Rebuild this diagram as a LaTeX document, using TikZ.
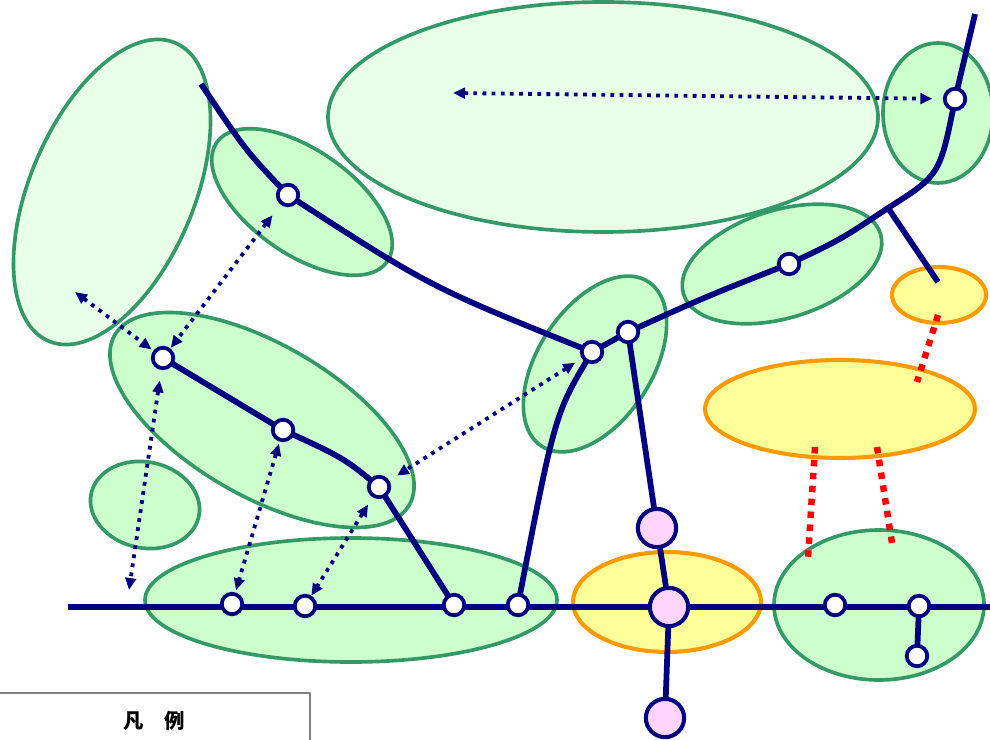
\documentclass[tikz,border=0pt]{standalone}
\usepackage{fontspec}
\newfontfamily\jpfont{Noto Sans CJK JP}
\usepackage{tikz}
\usetikzlibrary{arrows.meta, calc, backgrounds}
\usepackage{xcolor}
\definecolor{navy}{HTML}{000080}
\definecolor{zoneedge}{HTML}{339966}
\definecolor{zonefill}{HTML}{CCFFCC}
\definecolor{palefill}{HTML}{E8FFE8}
\definecolor{yeledge}{HTML}{FF9900}
\definecolor{yelfill}{HTML}{FFFF99}
\definecolor{pinkfill}{HTML}{FFD5FF}
\definecolor{legendedge}{HTML}{808080}

\begin{document}
\begin{tikzpicture}[x=0.025cm, y=-0.025cm, line join=round,
    zone/.style={draw=zoneedge, fill=zonefill, line width=2.6pt},
    palezone/.style={draw=zoneedge, fill=palefill, line width=2.6pt},
    yelzone/.style={draw=yeledge, fill=yelfill, line width=2.9pt},
    track/.style={draw=navy, line width=4.1pt},
    stn/.style={circle, draw=navy, fill=white, line width=2.7pt, minimum size=14.6pt, inner sep=0pt},
    hub/.style={circle, draw=navy, fill=pinkfill, line width=2.9pt, minimum size=27.2pt, inner sep=0pt},
    link/.style={draw=navy, line width=2.7pt, dash pattern=on 2.7pt off 3.8pt,
      {Triangle[length=8.5pt,width=7.5pt]}-{Triangle[length=8.5pt,width=7.5pt]}},
    tie/.style={draw=red, line width=4.6pt, dash pattern=on 4.6pt off 4.6pt}]
  \useasboundingbox (0,0) rectangle (990,740);

  % stations
  \node[stn] (st1)  at (288,195) {};
  \node[stn] (st2)  at (163,358) {};
  \node[stn] (st3)  at (283,430) {};
  \node[stn] (st4)  at (379,487) {};
  \node[stn] (st5)  at (454,605) {};
  \node[stn] (st6)  at (232,604) {};
  \node[stn] (st7)  at (305,606) {};
  \node[stn] (st8)  at (592,352) {};
  \node[stn] (st9)  at (628,332) {};
  \node[stn] (st10) at (789,264) {};
  \node[stn] (st11) at (955,99) {};
  \node[stn] (st12) at (518,605) {};
  \node[stn] (st13) at (835,605) {};
  \node[stn] (st14) at (919,606) {};
  \node[stn] (st15) at (917,656) {};
  \node[hub] (pk1) at (657,528) {};
  \node[hub] (pk2) at (669,607) {};
  \node[hub] (pk3) at (665,718) {};

  % free ends
  \coordinate (m0) at (68,607);
  \coordinate (m1) at (995,607);
  \coordinate (a0) at (201,84);
  \coordinate (a1) at (975,14);
  \coordinate (jn) at (888,208);
  \coordinate (b1) at (938,282);
  \coordinate (c1) at (453,93);
  \coordinate (c2) at (75,292);
  \coordinate (c4) at (129,590);
  \coordinate (t1) at (938,315);
  \coordinate (t2) at (917,382);
  \coordinate (t3) at (815,447);
  \coordinate (t4) at (808,558);
  \coordinate (t5) at (877,447);
  \coordinate (t6) at (892,543);

  \begin{pgfonlayer}{background}
    % areas
    \draw[palezone, rotate around={67:(112,192)}] (112,192) ellipse [x radius=162, y radius=82];
    \draw[palezone] (603,117) ellipse [x radius=275, y radius=115];
    \draw[zone] (938,113) ellipse [x radius=55, y radius=70];
    \draw[zone, rotate around={-35:(302,202)}] (302,202) ellipse [x radius=104, y radius=52];
    \draw[zone, rotate around={-30:(262,420)}] (262,420) ellipse [x radius=170, y radius=76];
    \draw[zone, rotate around={-12:(145,505)}] (145,505) ellipse [x radius=55, y radius=43];
    \draw[zone] (351,600) ellipse [x radius=206, y radius=62];
    \draw[zone, rotate around={57:(595,364)}] (595,364) ellipse [x radius=98, y radius=57];
    \draw[zone, rotate around={17:(782,264)}] (782,264) ellipse [x radius=103, y radius=54];
    \draw[zone] (879,605) ellipse [x radius=105, y radius=75];
    \draw[yelzone] (939,295) ellipse [x radius=47, y radius=28];
    \draw[yelzone] (840,409) ellipse [x radius=135, y radius=49];
    \draw[yelzone] (667,602) ellipse [x radius=94, y radius=50];

    % red ties
    \draw[tie] (t1) -- (t2);
    \draw[tie] (t3) -- (t4);
    \draw[tie] (t5) -- (t6);

    % lines
    \draw[track] (m0) -- (m1);
    \draw[track] (st5.center) -- (st4.center) .. controls (344,458) .. (st3.center) -- (st2.center);
    \draw[track] (a0) .. controls (246,151) .. (st1.center) .. controls (430,287) .. (st8.center)
      -- (st9.center) .. controls (705,297) .. (st10.center) .. controls (840,240) .. (jn)
      .. controls (940,175) .. (st11.center) -- (a1);
    \draw[track] (jn) -- (b1);
    \draw[track] (st8.center) .. controls (555,413) .. (st12.center);
    \draw[track] (st9.center) -- (pk1.center) -- (pk2.center) -- (pk3.center);
    \draw[track] (st14.center) -- (st15.center);

    % transfer arrows
    \draw[link, shorten >=7.5pt] (c1) -- (st11);
    \draw[link, shorten >=1.5pt] (c2) -- (st2);
    \draw[link, shorten <=9.5pt, shorten >=0.5pt] (st1) -- (st2);
    \draw[link, shorten <=7.5pt] (st2) -- (c4);
    \draw[link, shorten <=1.5pt, shorten >=1.5pt] (st3) -- (st6);
    \draw[link, shorten <=6pt] (st4) -- (st7);
    \draw[link, shorten <=5.5pt, shorten >=6.5pt] (st8) -- (st4);
  \end{pgfonlayer}

  % legend
  \draw[legendedge, line width=1pt] (0,693) -- (310,693) -- (310,745);
  \node[font={\jpfont\bfseries\fontsize{14.5pt}{16pt}\selectfont}] (lgd) at (154,721) {凡　例};
\end{tikzpicture}
\end{document}
